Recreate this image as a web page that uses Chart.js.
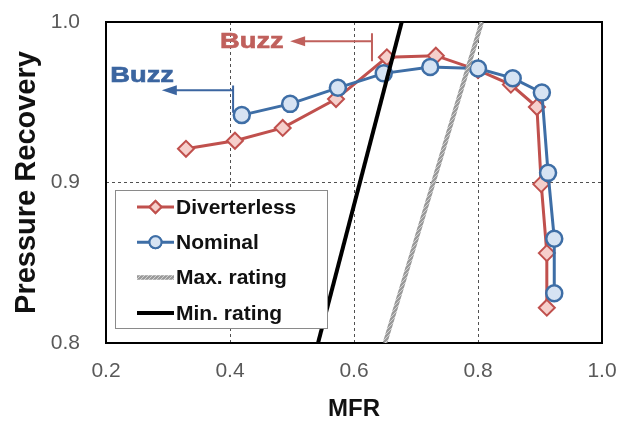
<!DOCTYPE html>
<html>
<head>
<meta charset="utf-8">
<script src="https://cdn.jsdelivr.net/npm/chart.js@4/dist/chart.umd.min.js"></script>
<style>
  html, body { margin: 0; padding: 0; background: #ffffff; }
  canvas { display: block; }
</style>
</head>
<body>
<canvas id="chart" width="633" height="426"></canvas>
<script>
// Inlet pressure recovery vs. mass flow ratio
const diverterlessMFR = [0.329, 0.408, 0.485, 0.571, 0.653, 0.732, 0.800, 0.853, 0.895, 0.902, 0.911, 0.911];
const diverterlessPR  = [0.921, 0.926, 0.934, 0.952, 0.978, 0.979, 0.970, 0.961, 0.947, 0.899, 0.856, 0.822];

const nominalMFR = [0.419, 0.497, 0.574, 0.648, 0.723, 0.800, 0.856, 0.903, 0.913, 0.923, 0.923];
const nominalPR  = [0.942, 0.949, 0.959, 0.968, 0.972, 0.971, 0.965, 0.956, 0.906, 0.865, 0.831];

const maxRatingMFR = [0.650, 0.806];
const maxRatingPR  = [0.800, 1.000];
const minRatingMFR = [0.542, 0.677];
const minRatingPR  = [0.800, 1.000];

const xTicks = [0.2, 0.4, 0.6, 0.8, 1.0];
const yTicks = [0.8, 0.9, 1.0];

const seriesNames = ['Diverterless', 'Nominal', 'Max. rating', 'Min. rating'];

const RED = '#c0504d', RED_FILL = '#f6cfcb';
const BLUE = '#3e6ea6', BLUE_FILL = '#d6e3f3';
const BLACK = '#000000';

// hatched grey stroke for the max. rating line
function hatchPattern() {
  const c = document.createElement('canvas');
  c.width = 4; c.height = 4;
  const g = c.getContext('2d');
  g.fillStyle = '#9a9a9a';
  g.fillRect(0, 0, 4, 4);
  g.strokeStyle = '#d2d2d2';
  g.lineWidth = 1;
  g.beginPath();
  g.moveTo(0, 4); g.lineTo(4, 0);
  g.stroke();
  return g.createPattern(c, 'repeat');
}
const GREY = hatchPattern();

const pts = (xs, ys) => xs.map((v, i) => ({ x: v, y: ys[i] }));

// buzz limits, placed in data units
const buzzNotes = [
  { text: 'Buzz', color: '#3b65a0', textMFR: 0.207, textPR: 0.9672,
    tipMFR: 0.290, stopMFR: 0.405, arrowPR: 0.9575, tickTop: 0.9605, tickBottom: 0.9435 },
  { text: 'Buzz', color: '#c0605c', textMFR: 0.384, textPR: 0.9885,
    tipMFR: 0.497, stopMFR: 0.629, arrowPR: 0.9880, tickTop: 0.9930, tickBottom: 0.9755 }
];

const buzzPlugin = {
  id: 'buzzNotes',
  afterDatasetsDraw(chart) {
    const { ctx, scales: { x, y } } = chart;
    buzzNotes.forEach(n => {
      const xStop = x.getPixelForValue(n.stopMFR);
      const xTip = x.getPixelForValue(n.tipMFR);
      const yA = y.getPixelForValue(n.arrowPR);
      ctx.save();
      ctx.strokeStyle = n.color;
      ctx.fillStyle = n.color;
      ctx.lineWidth = 2;
      ctx.beginPath();
      ctx.moveTo(xStop, y.getPixelForValue(n.tickTop));
      ctx.lineTo(xStop, y.getPixelForValue(n.tickBottom));
      ctx.moveTo(xStop, yA);
      ctx.lineTo(xTip + 12, yA);
      ctx.stroke();
      ctx.beginPath();
      ctx.moveTo(xTip, yA);
      ctx.lineTo(xTip + 15, yA - 5);
      ctx.lineTo(xTip + 15, yA + 5);
      ctx.closePath();
      ctx.fill();
      ctx.translate(x.getPixelForValue(n.textMFR), y.getPixelForValue(n.textPR));
      ctx.scale(1.24, 1);
      ctx.font = 'bold 22px "Liberation Sans", Arial, sans-serif';
      ctx.textBaseline = 'middle';
      ctx.textAlign = 'left';
      ctx.lineWidth = 0.6;
      ctx.fillText(n.text, 0, 1);
      ctx.strokeText(n.text, 0, 1);
      ctx.restore();
    });
  }
};

const framePlugin = {
  id: 'frame',
  beforeDatasetsDraw(chart) {
    const { ctx, chartArea: a } = chart;
    ctx.save();
    ctx.strokeStyle = '#000';
    ctx.lineWidth = 2;
    ctx.strokeRect(a.left, a.top, a.right - a.left, a.bottom - a.top);
    ctx.restore();
  }
};

// boxed legend sitting inside the plot area
const legendPlugin = {
  id: 'boxLegend',
  afterDraw(chart) {
    const { ctx, chartArea: a } = chart;
    const bx = a.left + 9, by = 190, bw = 212, bh = 138;
    ctx.save();
    ctx.fillStyle = '#ffffff';
    ctx.fillRect(bx, by, bw, bh);
    ctx.strokeStyle = '#8a8a8a';
    ctx.lineWidth = 1;
    ctx.strokeRect(bx + 0.5, by + 0.5, bw, bh);
    [0, 1, 2, 3].forEach((di, i) => {
      const ds = chart.data.datasets[di];
      const cy = 207 + i * 35.3;
      const x0 = bx + 22, x1 = bx + 59;
      ctx.strokeStyle = ds.borderColor;
      ctx.lineWidth = ds.borderWidth;
      ctx.beginPath();
      ctx.moveTo(x0, cy);
      ctx.lineTo(x1, cy);
      ctx.stroke();
      if (ds.pointRadius > 0) {
        ctx.fillStyle = ds.pointBackgroundColor;
        ctx.strokeStyle = ds.pointBorderColor;
        ctx.lineWidth = 2;
        Chart.helpers.drawPoint(ctx, { pointStyle: ds.pointStyle, radius: 6, borderWidth: 2 }, (x0 + x1) / 2, cy);
        ctx.fill();
        ctx.stroke();
      }
      ctx.fillStyle = '#111';
      ctx.font = 'bold 21px "Liberation Sans", Arial, sans-serif';
      ctx.textBaseline = 'middle';
      ctx.textAlign = 'left';
      ctx.fillText(seriesNames[di], x1 + 2, cy + 1);
    });
    ctx.restore();
  }
};

const innerGrid = (ticksArr) => (c) => {
  const v = c.tick ? c.tick.value : null;
  if (v === null) return 'rgba(0,0,0,0)';
  const first = ticksArr[0], last = ticksArr[ticksArr.length - 1];
  if (Math.abs(v - first) < 1e-6 || Math.abs(v - last) < 1e-6) return 'rgba(0,0,0,0)';
  return '#505050';
};

new Chart(document.getElementById('chart'), {
  type: 'line',
  data: {
    datasets: [
      {
        label: seriesNames[0],
        data: pts(diverterlessMFR, diverterlessPR),
        borderColor: RED, borderWidth: 3,
        pointStyle: 'rectRot', pointRadius: 8, pointBorderWidth: 2,
        pointBackgroundColor: RED_FILL, pointBorderColor: RED,
        order: 4
      },
      {
        label: seriesNames[1],
        data: pts(nominalMFR, nominalPR),
        borderColor: BLUE, borderWidth: 3,
        pointStyle: 'circle', pointRadius: 8, pointBorderWidth: 2.5,
        pointBackgroundColor: BLUE_FILL, pointBorderColor: BLUE,
        order: 3
      },
      {
        label: seriesNames[2],
        data: pts(maxRatingMFR, maxRatingPR),
        borderColor: GREY, borderWidth: 4.5,
        pointRadius: 0,
        order: 2
      },
      {
        label: seriesNames[3],
        data: pts(minRatingMFR, minRatingPR),
        borderColor: BLACK, borderWidth: 4,
        pointRadius: 0,
        order: 1
      }
    ]
  },
  options: {
    responsive: false,
    devicePixelRatio: 1,
    animation: false,
    layout: { padding: { top: 22, right: 31, left: 0, bottom: 0 } },
    plugins: { legend: { display: false }, tooltip: { enabled: false } },
    elements: { line: { tension: 0 } },
    scales: {
      x: {
        type: 'linear',
        min: xTicks[0], max: xTicks[xTicks.length - 1],
        afterFit: (s) => { s.height = 83; s.paddingLeft = 0; s.paddingRight = 0; },
        ticks: {
          stepSize: 0.2, padding: 16, color: '#595959',
          font: { family: '"Liberation Sans", Arial, sans-serif', size: 21 },
          callback: (v) => Number(v).toFixed(1)
        },
        afterBuildTicks: (s) => { s.ticks = xTicks.map(v => ({ value: v })); },
        grid: { color: innerGrid(xTicks), lineWidth: 1, drawTicks: false },
        border: { display: false, dash: [3, 3] },
        title: {
          display: true, text: 'MFR', color: '#111',
          font: { family: '"Liberation Sans", Arial, sans-serif', size: 24, weight: 'bold' },
          padding: { top: 0, bottom: 2 }
        }
      },
      y: {
        type: 'linear',
        min: yTicks[0], max: yTicks[yTicks.length - 1],
        afterFit: (s) => { s.width = 106; s.paddingTop = 0; s.paddingBottom = 0; },
        ticks: {
          stepSize: 0.1, padding: 26, color: '#595959',
          font: { family: '"Liberation Sans", Arial, sans-serif', size: 21 },
          callback: (v) => Number(v).toFixed(1)
        },
        afterBuildTicks: (s) => { s.ticks = yTicks.map(v => ({ value: v })); },
        grid: { color: innerGrid(yTicks), lineWidth: 1, drawTicks: false },
        border: { display: false, dash: [3, 3] },
        title: {
          display: true, text: 'Pressure Recovery', color: '#111',
          font: { family: '"Liberation Sans", Arial, sans-serif', size: 29, weight: 'bold' },
          padding: { top: 10, bottom: 0 }
        }
      }
    }
  },
  plugins: [framePlugin, buzzPlugin, legendPlugin]
});
</script>
</body>
</html>
